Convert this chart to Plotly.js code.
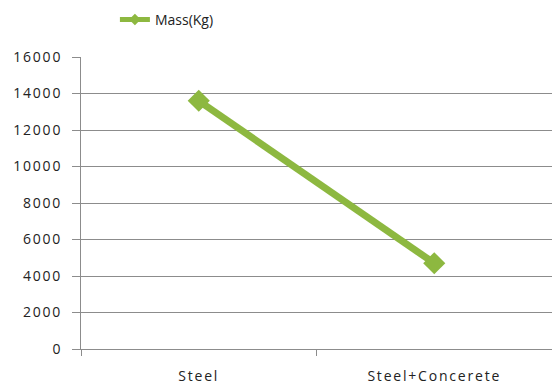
<!DOCTYPE html>
<html>
<head>
<meta charset="utf-8">
<script src="https://cdn.plot.ly/plotly-3.0.1.min.js"></script>
<style>
  html, body { margin: 0; padding: 0; background: #fff; }
  #chart { width: 552px; height: 389px; }
  /* loose tracking on the axis labels */
  #chart .xtick text, #chart .ytick text { letter-spacing: 1.8px; }
</style>
</head>
<body>
<div id="chart"></div>
<script>
// Structural mass of the two design options
const materials = ["Steel", "Steel+Concerete"];
const massKg = [13600, 4700];
const seriesName = "Mass(Kg)";
const yTicks = [0, 2000, 4000, 6000, 8000, 10000, 12000, 14000, 16000];

const green = "#8DB840";
const grey = "#8c8c8c";
const fontFamily = "'Open Sans', 'Noto Sans', sans-serif";

// the series itself (legend key is drawn by a slimmer twin below)
const trace = {
  x: materials,
  y: massKg,
  name: seriesName,
  type: "scatter",
  mode: "lines+markers",
  line: { color: green, width: 7 },
  marker: { symbol: "diamond", size: 17, color: green },
  showlegend: false
};

// legend key: same name and colour, thinner stroke and smaller diamond
const legendKey = {
  x: [materials[0]],
  y: [null],
  name: seriesName,
  type: "scatter",
  mode: "lines+markers",
  line: { color: green, width: 5 },
  marker: { symbol: "diamond", size: 9, color: green },
  showlegend: true,
  hoverinfo: "skip"
};

const layout = {
  width: 552,
  height: 389,
  margin: { l: 81, r: 0, t: 57, b: 40, autoexpand: false },
  paper_bgcolor: "#fff",
  plot_bgcolor: "#fff",
  font: { family: fontFamily, size: 13, color: "#222" },
  showlegend: true,
  legend: {
    orientation: "h",
    x: 0.072,
    y: 1.127,
    xanchor: "left",
    yanchor: "middle",
    font: { family: fontFamily, size: 14, color: "#222" },
    bgcolor: "rgba(0,0,0,0)"
  },
  xaxis: {
    type: "category",
    range: [-0.5, 1.5],
    showgrid: false,
    showline: true,
    linecolor: grey,
    linewidth: 1,
    ticks: "outside",
    tickson: "boundaries",
    ticklen: 6,
    tickcolor: grey,
    ticklabelstandoff: 14,
    tickfont: { family: fontFamily, size: 14, color: "#222" },
    fixedrange: true
  },
  yaxis: {
    range: [0, 16000],
    tickvals: yTicks,
    ticktext: yTicks.map(String),
    showgrid: true,
    gridcolor: grey,
    gridwidth: 1,
    zeroline: false,
    showline: true,
    linecolor: grey,
    linewidth: 1,
    ticks: "outside",
    ticklen: 8,
    tickcolor: grey,
    ticklabelstandoff: 7,
    tickfont: { family: fontFamily, size: 14, color: "#222" },
    fixedrange: true
  }
};

Plotly.newPlot("chart", [trace, legendKey], layout, { displayModeBar: false, staticPlot: true });
</script>
</body>
</html>
